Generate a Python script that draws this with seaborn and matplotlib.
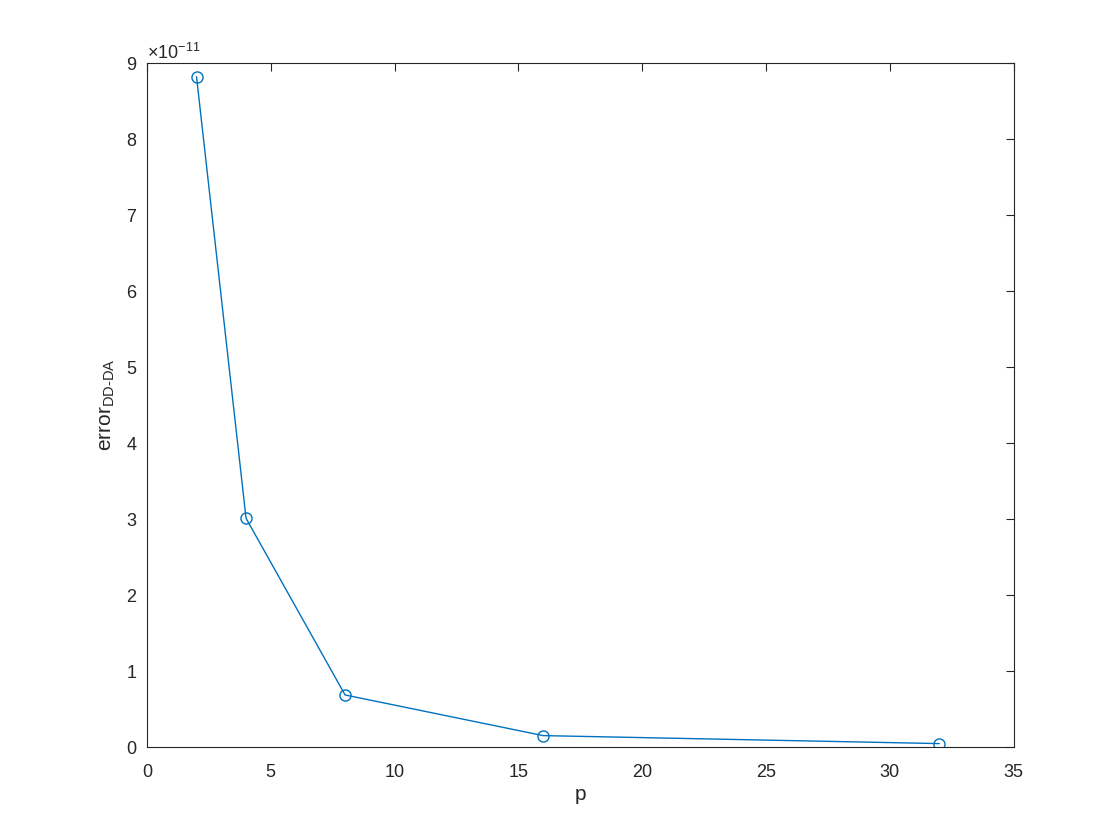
import numpy as np
import pandas as pd
import seaborn as sns
import matplotlib
matplotlib.use('Agg')
import matplotlib.pyplot as plt
from matplotlib.ticker import ScalarFormatter

# values
p_values = [2, 4, 8, 16, 32]
errors = [8.82e-11, 3.01e-11, 0.685e-11, 0.15e-11, 0.045e-11]

x_ticks = [0, 5, 10, 15, 20, 25, 30, 35]
y_ticks = [v * 1e-11 for v in range(10)]


def main():
    sns.set_style('white')
    plt.rcParams['font.family'] = ['Liberation Sans', 'DejaVu Sans']
    plt.rcParams['mathtext.fontset'] = 'custom'
    plt.rcParams['mathtext.rm'] = 'Liberation Sans'
    plt.rcParams['mathtext.it'] = 'Liberation Sans'

    data = pd.DataFrame({'p': p_values, 'error': errors})

    fig = plt.figure(figsize=(11.2, 8.4), dpi=100)
    ax = fig.add_axes([0.13125, 0.1107, 0.77375, 0.8143])

    sns.lineplot(data=data, x='p', y='error', ax=ax, color='#0072BD',
                 linewidth=1.0, marker='o', markersize=8,
                 markerfacecolor='none', markeredgecolor='#0072BD',
                 markeredgewidth=1.0)

    ax.set_xlim(0, 35)
    ax.set_ylim(0, 9e-11)
    ax.set_xticks(x_ticks)
    ax.set_yticks(y_ticks)

    fmt = ScalarFormatter(useMathText=True)
    fmt.set_powerlimits((0, 0))
    ax.yaxis.set_major_formatter(fmt)
    ax.yaxis.get_offset_text().set_fontsize(13)
    ax.yaxis.get_offset_text().set_color('#262626')

    ax.tick_params(direction='in', top=True, right=True, length=6,
                   width=0.8, labelsize=13, colors='#262626')
    ax.tick_params(axis='x', pad=12)
    ax.tick_params(axis='y', pad=7)
    for s in ax.spines.values():
        s.set_color('#262626')
        s.set_linewidth(0.8)

    ax.set_xlabel('p', fontsize=15, color='#262626', labelpad=3)
    ax.set_ylabel(r'error$_{\mathregular{DD\text{-}DA}}$', fontsize=15,
                  color='#262626', labelpad=6)

    fig.savefig('out.png', dpi=100, facecolor='white')


if __name__ == '__main__':
    main()
